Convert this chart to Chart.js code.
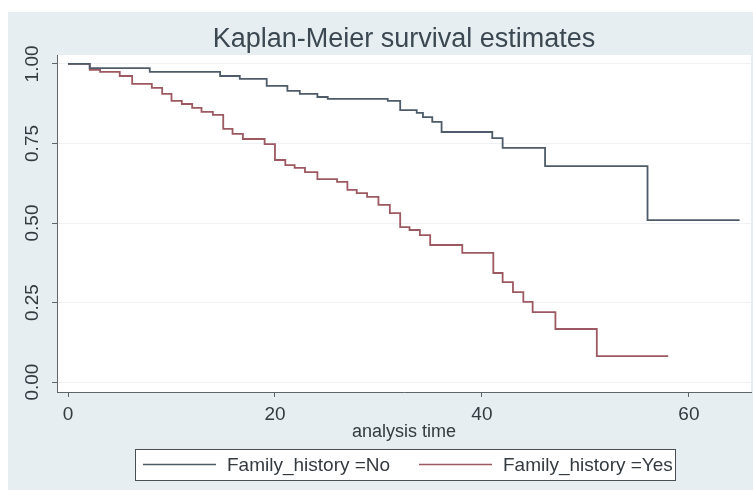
<!DOCTYPE html>
<html>
<head>
<meta charset="utf-8">
<script src="https://cdn.jsdelivr.net/npm/chart.js@4/dist/chart.umd.min.js"></script>
<style>
  html, body { margin: 0; padding: 0; background: #ffffff; }
  #kmChart { display: block; }
</style>
</head>
<body>
<canvas id="kmChart" width="753" height="490"></canvas>
<script>
// Kaplan-Meier step data (time, survival after the step)
const noTimes = [0, 2.1, 7.9, 14.7, 16.6, 19.2, 21.2, 22.4, 24.1, 25.1, 30.9, 32.1, 33.7, 34.3, 35.2, 36.1, 41.0, 42.0, 46.1, 56.0, 64.9];
const noSurv = [1.0, 0.987, 0.975, 0.962, 0.953, 0.931, 0.915, 0.906, 0.896, 0.890, 0.884, 0.855, 0.846, 0.833, 0.818, 0.786, 0.767, 0.736, 0.679, 0.509, 0.509];

const yesTimes = [0, 2.1, 3.1, 5.0, 6.2, 8.1, 9.1, 10.0, 11.0, 12.0, 12.9, 14.0, 15.0, 15.9, 16.9, 19.0, 20.0, 21.0, 21.9, 22.9, 24.1, 26.0, 27.0, 27.9, 28.9, 30.0, 31.1, 32.1, 33.0, 34.0, 35.0, 38.1, 41.1, 42.0, 43.0, 44.0, 44.9, 47.1, 51.1, 58.0];
const yesSurv = [1.0, 0.981, 0.975, 0.962, 0.937, 0.925, 0.906, 0.884, 0.874, 0.862, 0.849, 0.840, 0.796, 0.780, 0.764, 0.748, 0.698, 0.682, 0.673, 0.660, 0.638, 0.629, 0.604, 0.594, 0.582, 0.557, 0.531, 0.487, 0.478, 0.462, 0.431, 0.406, 0.343, 0.314, 0.283, 0.252, 0.220, 0.167, 0.082, 0.082];

const seriesLabels = ['Family_history =No', 'Family_history =Yes'];
const xTickValues = [0, 20, 40, 60];
const yTickValues = [0, 0.25, 0.5, 0.75, 1.0];

const titleText = 'Kaplan-Meier survival estimates';
const xAxisTitle = 'analysis time';

const FONT = '"Liberation Sans", Arial, sans-serif';
const lineColors = ['#4e5c69', '#9d5961'];

function toPoints(times, surv) {
  return times.map((t, i) => ({ x: t, y: surv[i] }));
}

const backgroundPlugin = {
  id: 'stataBackground',
  beforeDraw(chart) {
    const { ctx, chartArea } = chart;
    ctx.save();
    ctx.fillStyle = '#ffffff';
    ctx.fillRect(0, 0, chart.width, chart.height);
    ctx.fillStyle = '#e7eef1';
    ctx.fillRect(8, 12, chart.width - 8, chart.height - 12);
    ctx.fillStyle = '#ffffff';
    ctx.fillRect(chartArea.left, chartArea.top, chartArea.right - chartArea.left, chartArea.bottom - chartArea.top);
    ctx.restore();
  },
};

const annotationPlugin = {
  id: 'stataText',
  afterDraw(chart) {
    const { ctx, chartArea } = chart;
    const yScale = chart.scales.y;
    ctx.save();

    // title, centred over the plot region
    ctx.font = `27px ${FONT}`;
    ctx.fillStyle = '#3b4852';
    ctx.textAlign = 'center';
    ctx.textBaseline = 'alphabetic';
    ctx.fillText(titleText, (chartArea.left + chartArea.right) / 2, 47);

    // vertical y tick labels
    ctx.font = `19px ${FONT}`;
    ctx.fillStyle = '#333a40';
    ctx.textBaseline = 'middle';
    yTickValues.forEach((v) => {
      const y = yScale.getPixelForValue(v);
      ctx.save();
      ctx.translate(33, y);
      ctx.rotate(-Math.PI / 2);
      ctx.fillText(v.toFixed(2), 0, 0);
      ctx.restore();
    });

    // legend box
    const box = { left: 135, top: 449, right: 675, bottom: 480 };
    ctx.fillStyle = '#ffffff';
    ctx.fillRect(box.left, box.top, box.right - box.left, box.bottom - box.top);
    ctx.strokeStyle = '#4a4f55';
    ctx.lineWidth = 1;
    ctx.strokeRect(box.left + 0.5, box.top + 0.5, box.right - box.left, box.bottom - box.top);

    const itemStarts = [143, 419];
    const midY = (box.top + box.bottom) / 2;
    ctx.font = `19px ${FONT}`;
    ctx.textAlign = 'left';
    chart.data.datasets.forEach((ds, i) => {
      const x0 = itemStarts[i];
      ctx.strokeStyle = ds.borderColor;
      ctx.lineWidth = 1.5;
      ctx.beginPath();
      ctx.moveTo(x0, midY);
      ctx.lineTo(x0 + 73, midY);
      ctx.stroke();
      ctx.fillStyle = '#333a40';
      ctx.fillText(ds.label, x0 + 84, midY + 1);
    });
    ctx.restore();
  },
};

new Chart(document.getElementById('kmChart'), {
  type: 'line',
  data: {
    datasets: [
      {
        label: seriesLabels[0],
        data: toPoints(noTimes, noSurv),
        borderColor: lineColors[0],
        borderWidth: 1.8,
        stepped: 'before',
        pointRadius: 0,
        fill: false,
      },
      {
        label: seriesLabels[1],
        data: toPoints(yesTimes, yesSurv),
        borderColor: lineColors[1],
        borderWidth: 1.8,
        stepped: 'before',
        pointRadius: 0,
        fill: false,
      },
    ],
  },
  options: {
    responsive: false,
    animation: false,
    devicePixelRatio: 1,
    layout: { padding: { left: 0, top: 55, right: 2, bottom: 0 } },
    plugins: {
      legend: { display: false },
      tooltip: { enabled: false },
      title: { display: false },
    },
    scales: {
      x: {
        type: 'linear',
        min: -1.063,
        max: 66.0,
        afterBuildTicks: (scale) => { scale.ticks = xTickValues.map((v) => ({ value: v })); },
        afterFit: (scale) => { scale.height = 98; },
        border: { display: true, color: '#5f656b', width: 1 },
        grid: { drawOnChartArea: false, drawTicks: true, tickLength: 5, tickColor: '#5f656b' },
        ticks: {
          font: { family: FONT, size: 19 },
          color: '#333a40',
          padding: 6,
          maxRotation: 0,
          callback: (v) => String(v),
        },
        title: {
          display: true,
          text: xAxisTitle,
          font: { family: FONT, size: 18 },
          color: '#333a40',
          padding: { top: 0, bottom: 47 },
        },
      },
      y: {
        type: 'linear',
        min: -0.031,
        max: 1.028,
        afterBuildTicks: (scale) => { scale.ticks = yTickValues.map((v) => ({ value: v })); },
        afterFit: (scale) => { scale.width = 57; },
        border: { display: true, color: '#5f656b', width: 1 },
        grid: { color: '#eef2f4', lineWidth: 1, drawTicks: true, tickLength: 5, tickColor: '#5f656b' },
        ticks: { display: false },
      },
    },
  },
  plugins: [backgroundPlugin, annotationPlugin],
});
</script>
</body>
</html>
